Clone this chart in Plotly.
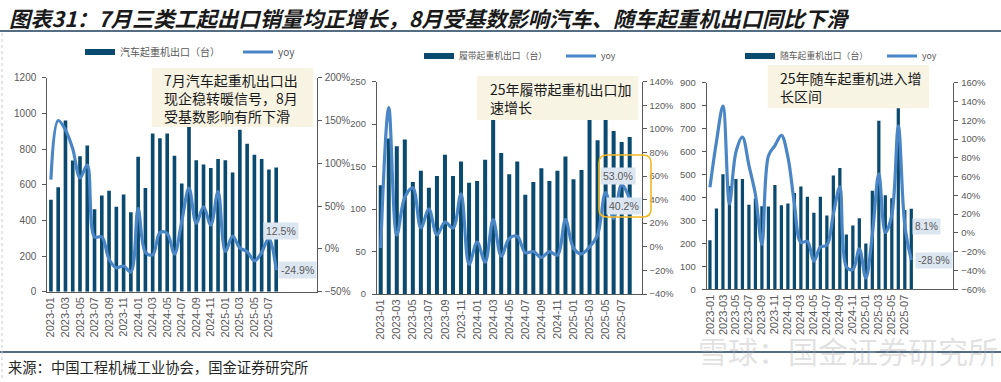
import plotly.graph_objects as go

# ---------------- data ----------------
months = ["2023-01", "2023-02", "2023-03", "2023-04", "2023-05", "2023-06", "2023-07", "2023-08",
          "2023-09", "2023-10", "2023-11", "2023-12", "2024-01", "2024-02", "2024-03", "2024-04",
          "2024-05", "2024-06", "2024-07", "2024-08", "2024-09", "2024-10", "2024-11", "2024-12",
          "2025-01", "2025-02", "2025-03", "2025-04", "2025-05", "2025-06", "2025-07", "2025-08"]
tick_months = ["2023-01", "2023-03", "2023-05", "2023-07", "2023-09", "2023-11", "2024-01", "2024-03",
               "2024-05", "2024-07", "2024-09", "2024-11", "2025-01", "2025-03", "2025-05", "2025-07"]

truck_units = [515, 586, 960, 735, 759, 820, 463, 540, 566, 476, 545, 445, 757, 582, 887, 860,
               887, 763, 607, 950, 737, 713, 694, 744, 737, 668, 908, 830, 768, 744, 685, 696]
truck_yoy = [81, 150, 139, 117, 83, 98, 14, 14, -12, -22, -20, -27, 47, -4, -7, 19,
             18, -6, 32, 71, 30, 49, 28, 67, -3, 15, 1, -3, -14, -4, 12.5, -24.9]

crawler_units = [128, 183, 174, 182, 132, 145, 125, 139, 164, 139, 156, 131, 133, 158, 215, 166,
                 141, 156, 117, 132, 148, 133, 145, 162, 135, 146, 225, 181, 215, 192, 179, 185]
crawler_yoy = [-1, 118, 10, 42, 50, 16, 32, 10, 21, 16, 45, -15, 4, -13, 23, -8,
               7, 9, -5, -4, -9, -4, -7, 23, -1, -6, 0, 10, 46, 24, 53.0, 40.2]

boom_units = [214, 352, 501, 450, 480, 480, 368, 396, 362, 361, 454, 366, 374, 420, 448, 403,
              333, 403, 322, 496, 528, 239, 278, 309, 199, 429, 734, 410, 397, 856, 345, 351]
boom_yoy = [48.6, 97, 135, 31, 86, 102, 72, 41, -12, 82, 93, 104, 81, 31, -10, -9,
            -30, -15, -13, 20, 49, -36, -39, -17, -48, -2, 63, 0.5, 19, 114, 8.1, -28.9]

names = ["汽车起重机出口（台）", "履带起重机出口（台）", "随车起重机出口（台）"]
title_text = "图表31：7月三类工起出口销量均正增长，8月受基数影响汽车、随车起重机出口同比下滑"
source_text = "来源：中国工程机械工业协会，国金证券研究所"
box_texts = [["7月汽车起重机出口出", "现企稳转暖信号，8月", "受基数影响有所下滑"],
             ["25年履带起重机出口加", "速增长"],
             ["25年随车起重机进入增", "长区间"]]

# ---------------- styling helpers ----------------
W, H = 1001, 382
def px(x):
    return x / W
def py(y):
    return 1 - y / H

BAR = "#0b4a6f"
LINE = "#4a86c6"
GRAY = "#595959"
AXIS = "#595959"
LABEL_BG = "#dce6f1"
BOX_BG = "#f8f4e3"
CJK = "Noto Sans CJK SC"

panels = [
    dict(units=truck_units, yoy=truck_yoy, xd=(47.3, 316.7), yd=(77.7, 291.7),
         lr=[0, 1200], ldt=200, rr=[-50, 200], rdt=50, leg_x=80, leg_y=52, tfs=10,
         lfs=10, ew=113,
         box=(151.7, 68.0, 313.3, 127.0), text_x=162, text_cy=98.0, bfs=14),
    dict(units=crawler_units, yoy=crawler_yoy, xd=(376.7, 641.7), yd=(81.7, 294.0),
         lr=[0, 250], ldt=50, rr=[-40, 140], rdt=20, leg_x=419, leg_y=56, tfs=9.3,
         lfs=8.8, ew=97,
         box=(476.7, 76.0, 638.3, 120.0), text_x=487.5, text_cy=98.2, bfs=14),
    dict(units=boom_units, yoy=boom_yoy, xd=(706.7, 953.3), yd=(82.7, 289.3),
         lr=[0, 900], ldt=100, rr=[-60, 160], rdt=20, leg_x=740, leg_y=56, tfs=9.5,
         lfs=8.8, ew=97,
         box=(767.7, 65.0, 929.0, 108.3), text_x=778, text_cy=86.8, bfs=14),
]

fig = go.Figure()
layout = dict(width=W, height=H, margin=dict(l=0, r=0, t=0, b=0, autoexpand=False), autosize=False,
              paper_bgcolor="white", plot_bgcolor="white", bargap=0.5, showlegend=True)
annotations = []
shapes = []

for i, p in enumerate(panels):
    n = i + 1
    xa = "x" if n == 1 else f"x{n}"
    yl_idx, yr_idx = 2 * n - 1, 2 * n
    yl = "y" if yl_idx == 1 else f"y{yl_idx}"
    yr = f"y{yr_idx}"
    leg = "legend" if n == 1 else f"legend{n}"

    fig.add_trace(go.Bar(x=months, y=p["units"], marker=dict(color=BAR, line=dict(width=0)),
                         name=names[i], xaxis=xa, yaxis=yl, showlegend=False))
    fig.add_trace(go.Scatter(x=months, y=p["yoy"], mode="lines",
                             line=dict(color=LINE, width=3.2, shape="spline", smoothing=1.0),
                             name="yoy", xaxis=xa, yaxis=yr, showlegend=False))
    # legend entries
    fig.add_trace(go.Scatter(x=[None], y=[None], mode="lines", line=dict(color=BAR, width=6),
                             name=names[i], xaxis=xa, yaxis=yl, legend=leg))
    fig.add_trace(go.Scatter(x=[None], y=[None], mode="lines", line=dict(color=LINE, width=3),
                             name="yoy", xaxis=xa, yaxis=yr, legend=leg))

    xkey = "xaxis" if n == 1 else f"xaxis{n}"
    ylkey = "yaxis" if yl_idx == 1 else f"yaxis{yl_idx}"
    yrkey = f"yaxis{yr_idx}"
    layout[xkey] = dict(domain=[px(p["xd"][0]), px(p["xd"][1])], anchor=yl, type="category",
                        categoryorder="array", categoryarray=months,
                        tickmode="array", tickvals=tick_months, ticktext=tick_months,
                        tickangle=-90, tickfont=dict(family="Arial", size=11, color=GRAY),
                        showline=True, linecolor=AXIS, linewidth=1, showgrid=False,
                        ticks="", zeroline=False, fixedrange=True, automargin=False)
    layout[ylkey] = dict(domain=[py(p["yd"][1]), py(p["yd"][0])], anchor=xa,
                         range=p["lr"], dtick=p["ldt"], tick0=0,
                         showline=True, linecolor=AXIS, linewidth=1, showgrid=False,
                         ticks="outside", ticklen=4, tickcolor=AXIS, ticklabelstandoff=4,
                         tickfont=dict(family="Arial", size=p["tfs"], color=GRAY), zeroline=False,
                         automargin=False)
    layout[yrkey] = dict(overlaying=yl, side="right", anchor=xa,
                         range=p["rr"], dtick=p["rdt"], tick0=0, ticksuffix="%",
                         showline=True, linecolor=AXIS, linewidth=1, showgrid=False,
                         ticks="outside", ticklen=4, tickcolor=AXIS, ticklabelstandoff=1,
                         tickfont=dict(family="Arial", size=p["tfs"], color=GRAY), zeroline=False,
                         automargin=False)
    layout[leg] = dict(orientation="h", x=px(p["leg_x"]), y=py(p["leg_y"]),
                       xanchor="left", yanchor="middle", bgcolor="rgba(0,0,0,0)",
                       font=dict(family=CJK, size=p["lfs"], color=GRAY),
                       itemwidth=30, tracegroupgap=0, borderwidth=0,
                       entrywidth=p["ew"], entrywidthmode="pixels")

    # annotation box
    bx0, by0, bx1, by1 = p["box"]
    shapes.append(dict(type="rect", xref="paper", yref="paper", x0=px(bx0), x1=px(bx1),
                       y0=py(by1), y1=py(by0), fillcolor=BOX_BG, line=dict(width=0), layer="above"))
    annotations.append(dict(xref="paper", yref="paper", x=px(p["text_x"]), y=py(p["text_cy"]),
                            xanchor="left", yanchor="middle", align="left", showarrow=False,
                            text="<br>".join(box_texts[i]),
                            font=dict(family=CJK, size=p["bfs"], color="#1a1a1a")))

# data labels
def data_label(n, idx, val, text, xs, ys, fs):
    xa = "x" if n == 1 else f"x{n}"
    yr = f"y{2 * n}"
    annotations.append(dict(xref=xa, yref=yr, x=months[idx], y=val, text=text, showarrow=False,
                            xshift=xs, yshift=ys, bgcolor=LABEL_BG, borderpad=2,
                            font=dict(family="Arial", size=fs, color=GRAY)))

data_label(1, 30, truck_yoy[30], "12.5%", 12, 7, 10.5)
data_label(1, 31, truck_yoy[31], "-24.9%", 21, 0, 10.5)
data_label(2, 30, crawler_yoy[30], "53.0%", -4, 8, 10.5)
data_label(2, 31, crawler_yoy[31], "40.2%", -6, -7, 10.5)
data_label(3, 30, boom_yoy[30], "8.1%", 22, -1, 10)
data_label(3, 31, boom_yoy[31], "-28.9%", 23, 0, 10)

# yellow rounded highlight on chart 2
x0, x1, y0, y1 = 599, 651, 155, 217
r = 8
path = (f"M {px(x0 + r)},{py(y0)} L {px(x1 - r)},{py(y0)} Q {px(x1)},{py(y0)} {px(x1)},{py(y0 + r)} "
        f"L {px(x1)},{py(y1 - r)} Q {px(x1)},{py(y1)} {px(x1 - r)},{py(y1)} "
        f"L {px(x0 + r)},{py(y1)} Q {px(x0)},{py(y1)} {px(x0)},{py(y1 - r)} "
        f"L {px(x0)},{py(y0 + r)} Q {px(x0)},{py(y0)} {px(x0 + r)},{py(y0)} Z")
shapes.append(dict(type="path", xref="paper", yref="paper", path=path,
                   line=dict(color="#f2b824", width=1.6), fillcolor="rgba(0,0,0,0)", layer="above"))

# header / footer rules
shapes.append(dict(type="line", xref="paper", yref="paper", x0=0, x1=1, y0=py(31), y1=py(31),
                   line=dict(color="#1d3c58", width=1.5)))
shapes.append(dict(type="line", xref="paper", yref="paper", x0=0, x1=1, y0=py(352), y1=py(352),
                   line=dict(color="#1d3c58", width=1.5)))
shapes.append(dict(type="line", xref="paper", yref="paper", x0=px(2), x1=px(2), y0=py(33), y1=py(380),
                   line=dict(color="#c8c8c8", width=1, dash="dot")))

# title and source
annotations.append(dict(xref="paper", yref="paper", x=px(7), y=py(18), xanchor="left", yanchor="middle",
                        showarrow=False, text=title_text,
                        font=dict(family=CJK, size=21.3, color="#1a1a1a", weight="bold", style="italic")))
annotations.append(dict(xref="paper", yref="paper", x=px(6), y=py(366), xanchor="left", yanchor="middle",
                        showarrow=False, text=source_text,
                        font=dict(family=CJK, size=14.3, color="#262626")))
# watermark
annotations.append(dict(xref="paper", yref="paper", x=px(1000), y=py(350), xanchor="right", yanchor="middle",
                        showarrow=False, text="雪球：国金证券研究所",
                        font=dict(family=CJK, size=30, color="rgba(170,170,170,0.35)")))

layout["annotations"] = annotations
layout["shapes"] = shapes
fig.update_layout(**layout)
fig.write_html("out.html", config={"displayModeBar": False},
               post_script="document.body.style.margin='0';document.body.style.overflow='hidden';")
